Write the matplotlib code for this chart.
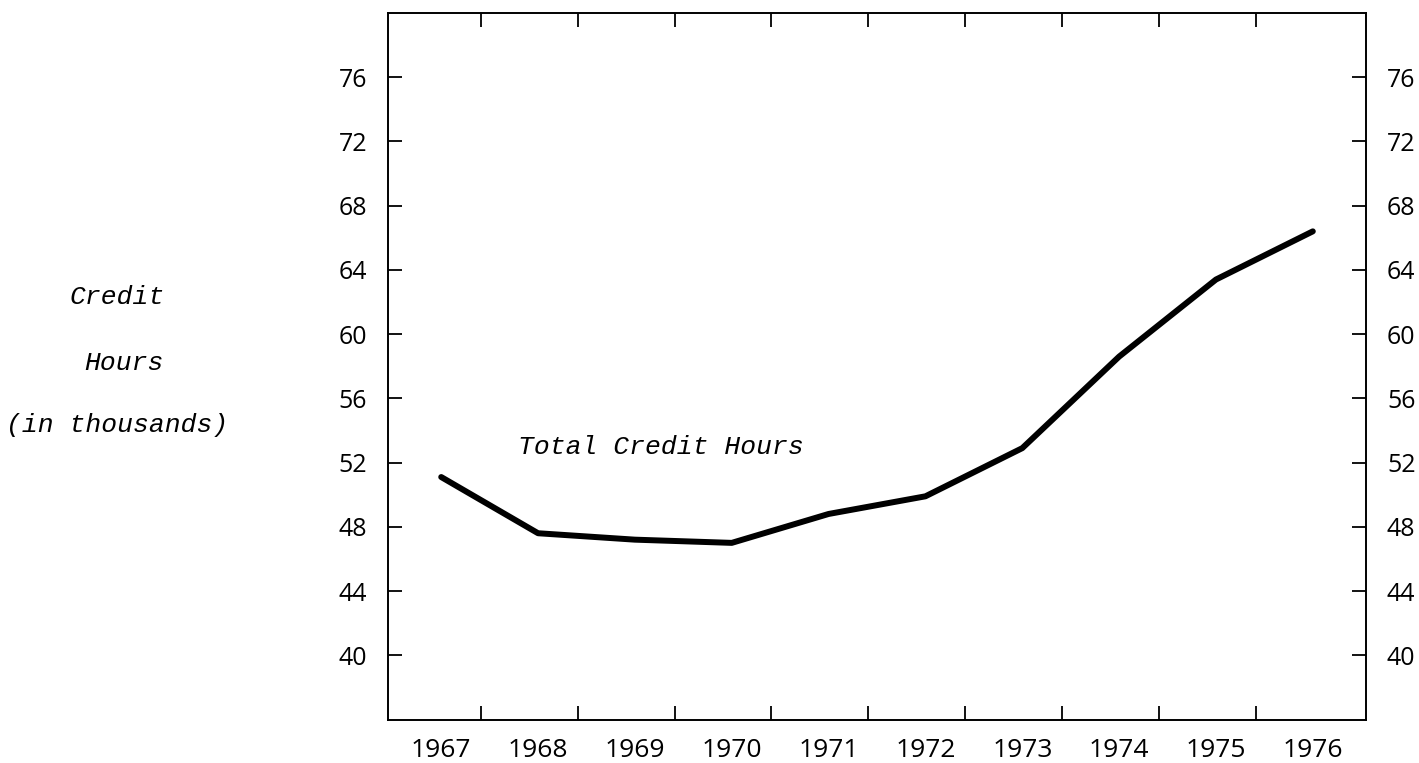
import matplotlib
matplotlib.use("Agg")
import matplotlib.pyplot as plt
import numpy as np

# data (thousands of credit hours)
years = [1967, 1968, 1969, 1970, 1971, 1972, 1973, 1974, 1975, 1976]
credit_hours = [51.1, 47.6, 47.2, 47.0, 48.8, 49.9, 52.9, 58.6, 63.4, 66.4]
y_ticks = [40, 44, 48, 52, 56, 60, 64, 68, 72, 76]

fig = plt.figure(figsize=(14.19, 7.63), dpi=100)
ax = fig.add_axes([0.2734, 0.057, 0.6893, 0.926])

x = np.arange(len(years))
ax.plot(x, credit_hours, color="black", lw=4.3, solid_capstyle="round", solid_joinstyle="round")

ax.set_xlim(-0.55, 9.55)
ax.set_ylim(36, 80)

# year labels sit under the points, tick marks fall between years
ax.set_xticks(x)
ax.set_xticklabels([str(y) for y in years])
ax.set_xticks(x[:-1] + 0.41, minor=True)
ax.tick_params(axis="x", which="major", length=0, pad=13)
ax.tick_params(axis="x", which="minor", direction="in", length=10, width=1.3, top=True, bottom=True)

ax.set_yticks(y_ticks)
ax.tick_params(axis="y", which="major", direction="in", length=10, width=1.3,
               left=True, right=True, labelleft=True, labelright=True, pad=15)

for lab in ax.get_xticklabels():
    lab.set_fontfamily("Open Sans")
    lab.set_fontsize(19)
for lab in ax.get_yticklabels():
    lab.set_fontfamily("Open Sans")
    lab.set_fontsize(18)

for s in ax.spines.values():
    s.set_linewidth(1.4)

mono = dict(family="Liberation Mono", style="italic", fontsize=19)
ax.text(2.27, 52.95, "Total Credit Hours", ha="center", va="center", **mono)
fig.text(117 / 1419, 1 - 297 / 763, "Credit", ha="center", va="center", **mono)
fig.text(124 / 1419, 1 - 363 / 763, "Hours", ha="center", va="center", **mono)
fig.text(117 / 1419, 1 - 425 / 763, "(in thousands)", ha="center", va="center", **mono)

fig.savefig("out.png", dpi=100)
